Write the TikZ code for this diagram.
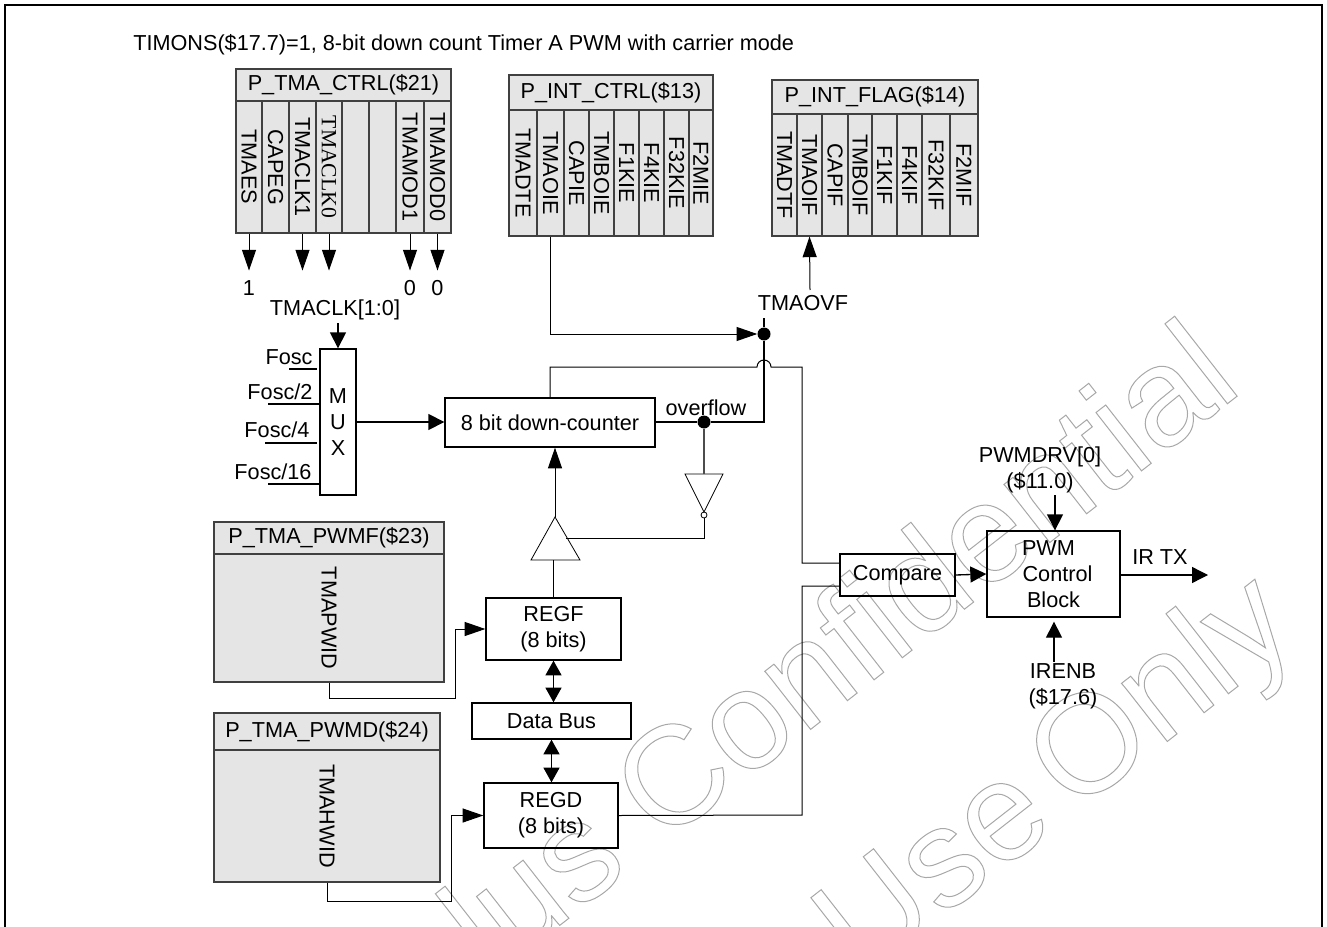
\documentclass[tikz,border=0pt]{standalone}
\usepackage{fontspec}
\setmainfont{Liberation Sans}
\newfontfamily\serfont{Liberation Serif}
\usetikzlibrary{arrows.meta,calc}

\def\px{0.75pt}
\newcommand{\wmtext}[1]{\special{pdf:code q 1 Tr 0.75 w 0.66 G}#1\special{pdf:code 0 Tr Q}}

\tikzset{
    lbl/.style={inner sep=0pt, font=\fontsize{16.25}{19.5}\selectfont, align=center},
    box/.style={lbl, draw, line width=1pt, minimum width=#1*\px},
    reghead/.style={lbl, draw=black!75, line width=0.8pt, fill=black!10},
    regcell/.style={lbl, draw=black!75, line width=0.8pt, fill=black!10, rotate=-90},
    wire/.style={line width=0.75pt},
    arrbig/.style={wire, -{Triangle[length=15.5pt, width=10.5pt]}},
    arrsmall/.style={line width=1pt, -{Triangle[length=12pt, width=12pt]}},
    arrboth/.style={line width=1pt, {Triangle[length=11pt, width=12pt]}-{Triangle[length=11pt, width=12pt]}},
    dot/.style={circle, fill=black, inner sep=0pt, minimum size=13*\px},
    gate/.style={line width=0.6pt},
    wmark/.style={inner sep=0pt, font=\fontsize{105}{105}\selectfont, rotate=38, anchor=base east}
}

\begin{document}
\begin{tikzpicture}[x=\px, y=-\px]
    \useasboundingbox (0,0) rectangle (1327,927);
    % watermark goes under everything
    \begin{scope}
        \clip (0,0) rectangle (1327,927);
        \node[wmark] (wmconf) at (1245,390) {\wmtext{Sunplus Confidential}};
        \node[wmark] (wmuse) at (1301,637) {\wmtext{Customer Use\hspace{-14pt} Only}};
    \end{scope}
    \draw[line width=1.9pt] (5,927) -- (5,5) -- (1322,5) -- (1322,927);
    \node[lbl, anchor=west] (title) at (133,45) {TIMONS(\$17.7)=1, 8-bit down count Timer A PWM with carrier mode};

    % P_TMA_CTRL
    \node[reghead, minimum width=215*\px, minimum height=32*\px] (ctrlhead) at (343.5,85) {P\_TMA\_CTRL(\$21)};
    \foreach \xa/\xb/\lab [count=\i] in {236/262/TMAES,262/289/CAPEG,289/316/TMACLK1,316/342/{\serfont TMACLK0},342/369/{},369/396/{},396/424/TMAMOD1,424/451/TMAMOD0}
        \node[regcell, minimum width=132*\px, minimum height=(\xb-\xa)*\px] (ct\i) at ({(\xa+\xb)/2},167) {\lab};
    \foreach \i/\v in {1/1,7/0,8/0} {
        \coordinate (ctend\i) at ($(ct\i.east)+(0,37)$);
        \draw[arrbig] (ct\i.east) -- (ctend\i);
        \node[lbl, below=7pt] (val\i) at (ctend\i) {\v};
    }
    \foreach \i in {3,4} {
        \coordinate (ctend\i) at ($(ct\i.east)+(0,37)$);
        \draw[arrbig] (ct\i.east) -- (ctend\i);
    }

    % P_INT_CTRL
    \node[reghead, minimum width=204*\px, minimum height=35*\px] (inthead) at (611,92.5) {P\_INT\_CTRL(\$13)};
    \foreach \xa/\xb/\lab [count=\i] in {509/537/TMADTE,537/564/TMAOIE,564/589/CAPIE,589/614/TMBOIE,614/639/F1KIE,639/664/F4KIE,664/689/F32KIE,689/713/F2MIE}
        \node[regcell, minimum width=126*\px, minimum height=(\xb-\xa)*\px] (ie\i) at ({(\xa+\xb)/2},173) {\lab};

    % P_INT_FLAG
    \node[reghead, minimum width=206*\px, minimum height=34*\px] (flaghead) at (875,97) {P\_INT\_FLAG(\$14)};
    \foreach \xa/\xb/\lab [count=\i] in {772/797/TMADTF,797/822/TMAOIF,822/848/CAPIF,848/872/TMBOIF,872/897/F1KIF,897/922/F4KIF,922/950/F32KIF,950/978/F2MIF}
        \node[regcell, minimum width=122*\px, minimum height=(\xb-\xa)*\px] (fl\i) at ({(\xa+\xb)/2},175) {\lab};

    % PWM registers
    \node[reghead, minimum width=230*\px, minimum height=32*\px] (pwmfhead) at (329,538) {P\_TMA\_PWMF(\$23)};
    \node[regcell, minimum width=128*\px, minimum height=230*\px] (pwmfbody) at (329,618) {TMAPWID};
    \node[reghead, minimum width=226*\px, minimum height=37*\px] (pwmdhead) at (327,731.5) {P\_TMA\_PWMD(\$24)};
    \node[regcell, minimum width=132*\px, minimum height=226*\px] (pwmdbody) at (327,816) {TMAHWID};

    % blocks
    \node[box=36, minimum height=146*\px] (mux) at (338,422) {M\\U\\X};
    \node[box=210, minimum height=49*\px] (counter) at (550,422.5) {8 bit down-counter};
    \node[box=135, minimum height=62*\px] (regf) at (553.5,629) {REGF\\(8 bits)};
    \node[box=159, minimum height=36*\px] (bus) at (551.5,721) {Data Bus};
    \node[box=134, minimum height=65*\px] (regd) at (551,815.5) {REGD\\(8 bits)};
    \node[box=115, minimum height=42*\px] (compare) at (897.5,575) {Compare};
    \node[box=133, minimum height=86*\px] (pwm) at (1053.5,574) {PWM\hspace*{7.5pt}\\\hspace*{6pt}Control\\Block};

    % clock inputs
    \node[lbl] (clkname) at (335,310) {TMACLK[1:0]};
    \coordinate (clkstub) at (338,323);
    \draw[arrsmall] (clkstub) -- (clkstub |- mux.north);
    \foreach \tx/\ty/\xa/\xb/\ly/\lab [count=\i] in {289/357/289/317/369/{Fosc},280/392/268/320/404/{Fosc/2},277/430/265/317/443/{Fosc/4},273/472/268/320/484/{Fosc/16}} {
        \node[lbl] (fosc\i) at (\tx,\ty) {\lab};
        \coordinate (fa\i) at (\xa,\ly);
        \coordinate (fb\i) at (\xb,\ly);
        \draw[wire, line width=1pt] (fa\i) -- (fb\i);
    }
    \draw[arrsmall] (mux.east) -- (mux.east -| counter.west);

    % overflow net
    \node[dot] (ovfdot) at (704,422) {};
    \node[dot] (flagdot) at (764,334) {};
    \node[lbl] (ovfname) at (706,408) {overflow};
    \node[lbl] (tmaovf) at (803,303) {TMAOVF};
    \coordinate (ovfturn) at (764,422);
    \coordinate (flagstub) at (764,318);
    \coordinate (ovfstub) at (810,290);
    \draw[wire, line width=1pt] (counter.east |- ovfdot) -- (ovfdot);
    \draw[wire, line width=1pt] (ovfdot) -- (ovfturn) -- (flagdot) -- (flagstub);
    \draw[arrbig] (ovfstub) -- (fl2.east);
    \draw[arrbig] (ie2.east) |- (flagdot.west);

    % gates
    \coordinate (invl) at (685,474);
    \coordinate (invr) at (723,474);
    \coordinate (invtip) at (704,512);
    \coordinate (invtop) at (704,474);
    \node[circle, draw, gate, fill=white, inner sep=0pt, minimum size=6*\px] (invbub) at (704,515) {};
    \draw[gate] (invl) -- (invr) -- (invtip) -- cycle;
    \draw[wire, line width=1pt, black!70] (ovfdot) -- (invtop);
    \coordinate (bufl) at (531,560);
    \coordinate (bufr) at (580,560);
    \coordinate (bufapex) at (555,517);
    \coordinate (buftap) at (566,538);
    \draw[gate] (bufl) -- (bufr) -- (bufapex) -- cycle;
    \draw[wire] (invbub.south) |- (buftap);
    \draw[wire] (regf.north) -- (regf.north |- bufl);
    \draw[arrbig] (bufapex) -- (bufapex |- counter.south);

    % to compare
    \coordinate (jmpa) at (757,367);
    \coordinate (topr) at (802,367);
    \coordinate (cmpa) at (840,563);
    \coordinate (cmpb) at (840,586);
    \coordinate (regdr) at (802,815);
    \draw[wire] (counter.north) |- (jmpa) arc[start angle=180, end angle=360, radius=7] -- (topr) |- (cmpa);
    \draw[wire] (regd.east) -- (regdr) |- (cmpb);

    % register loads
    \coordinate (fbend) at (455,698);
    \coordinate (dbend) at (451,901);
    \draw[arrbig] (pwmfbody.east) |- (fbend) |- (regf.west);
    \draw[arrbig] (pwmdbody.east) |- (dbend) |- (regd.west);
    \draw[arrboth] (regf.south) -- (regf.south |- bus.north);
    \draw[arrboth] (bus.south) -- (bus.south |- regd.north);

    % output side
    \node[lbl] (drvname) at (1040,469.5) {PWMDRV[0]\\(\$11.0)};
    \node[lbl] (irenb) at (1063,686.5) {IRENB\\(\$17.6)};
    \node[lbl] (irtx) at (1160,557) {IR TX};
    \coordinate (drvstub) at (1055,495);
    \coordinate (enbstub) at (1054,662);
    \coordinate (txend) at (1208,575);
    \draw[arrsmall] (drvstub) -- (drvstub |- pwm.north);
    \draw[arrsmall, shorten >=3pt] (enbstub) -- (enbstub |- pwm.south);
    \draw[arrsmall] (compare.east) -- (pwm.west);
    \draw[arrsmall] (pwm.east |- txend) -- (txend);
\end{tikzpicture}
\end{document}
